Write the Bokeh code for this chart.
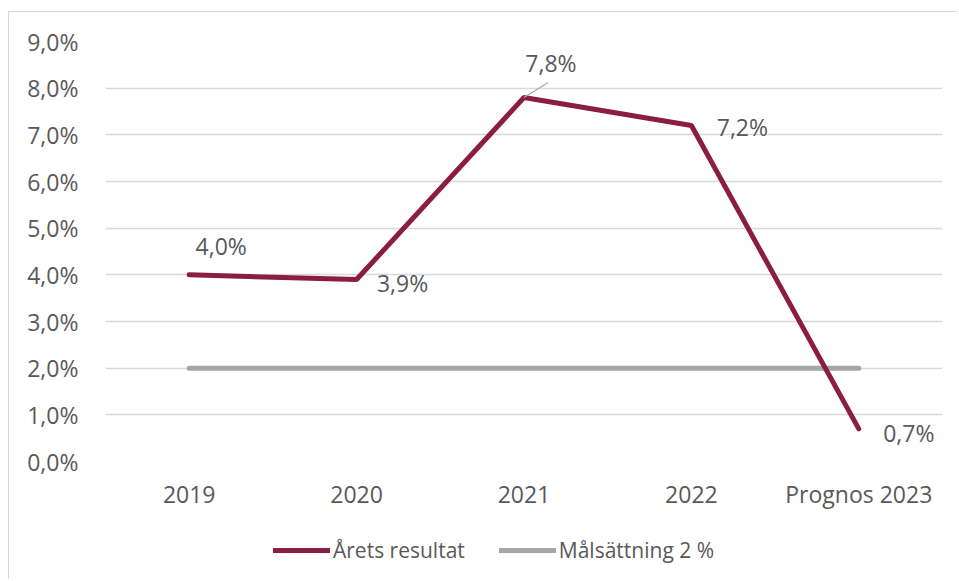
from bokeh.plotting import figure
from bokeh.layouts import column
from bokeh.models import (ColumnDataSource, Legend, LegendItem, CustomJSTickFormatter,
                          FixedTicker, Range1d, FactorRange)
from bokeh.transform import dodge
from bokeh.core.properties import value
from bokeh.embed import file_html
from bokeh.resources import INLINE

# ---- data ----
categories = ["2019", "2020", "2021", "2022", "Prognos 2023"]
arets_resultat = [4.0, 3.9, 7.8, 7.2, 0.7]
malsattning = [2.0, 2.0, 2.0, 2.0, 2.0]
y_ticks = [0, 1, 2, 3, 4, 5, 6, 7, 8, 9]
series_names = ["Årets resultat", "Målsättning 2 %"]

# ---- label placement (screen px, styling only) ----
label_dx = [32, 46, 27, 51, 50]
label_dy = [-29, 3, -35, 1, 4]

FONT = "Open Sans"
TXT = "#595959"
RED = "#8B1C42"
GREY = "#A6A6A6"
W = 948

p = figure(x_range=FactorRange(*categories, range_padding=0), y_range=Range1d(0, 9),
           width=W, height=509, output_backend="svg", toolbar_location=None,
           min_border_left=96, min_border_right=15, min_border_top=29, min_border_bottom=60)
p.outline_line_color = None
p.background_fill_color = "white"

p.xgrid.grid_line_color = None
p.ygrid.grid_line_color = "#d9d9d9"
p.ygrid.grid_line_width = 1.5
p.yaxis.ticker = FixedTicker(ticks=y_ticks)
p.yaxis.formatter = CustomJSTickFormatter(code="return tick.toFixed(1).replace('.', ',') + '%';")

for ax in (p.xaxis[0], p.yaxis[0]):
    ax.axis_line_color = None
    ax.major_tick_line_color = None
    ax.minor_tick_line_color = None
    ax.major_tick_out = 0
    ax.major_tick_in = 0
    ax.major_label_text_color = TXT
    ax.major_label_text_font = FONT
    ax.major_label_text_font_size = "23px"
p.yaxis.major_label_standoff = 27
p.xaxis.major_label_standoff = 16

src = ColumnDataSource(dict(
    x=categories, res=arets_resultat, mal=malsattning,
    lab=[f"{v:.1f}".replace(".", ",") + "%" for v in arets_resultat],
    dx=label_dx, dy=label_dy))

p.line("x", "mal", source=src, line_color=GREY, line_width=5, line_cap="round")
p.line("x", "res", source=src, line_color=RED, line_width=5, line_cap="round")

# leader line for the 2021 label
i = categories.index("2021")
lead = ColumnDataSource(dict(x=[categories[i]], y0=[arets_resultat[i]], y1=[arets_resultat[i] + 0.32]))
p.segment(x0="x", y0="y0", x1=dodge("x", 0.144, range=p.x_range), y1="y1", source=lead,
          line_color=GREY, line_width=1.2)

p.text(x="x", y="res", text="lab", x_offset="dx", y_offset="dy", source=src,
       text_align="center", text_baseline="middle", text_font=value(FONT),
       text_font_size="23px", text_color=TXT)

# ---- legend strip (same series, drawn outside its visible y-range; only the legend shows) ----
lf = figure(width=W, height=58, output_backend="svg", toolbar_location=None,
            x_range=p.x_range, y_range=Range1d(-100, -99),
            x_axis_type=None, y_axis_type=None, min_border=0)
lf.outline_line_color = None
lr_res = lf.line("x", "res", source=src, line_color=RED, line_width=5, line_cap="round")
lr_mal = lf.line("x", "mal", source=src, line_color=GREY, line_width=5, line_cap="round")
legend = Legend(items=[LegendItem(label=series_names[0], renderers=[lr_res]),
                       LegendItem(label=series_names[1], renderers=[lr_mal])],
                orientation="horizontal", location=(168, 15),
                label_text_font=FONT, label_text_font_size="21px", label_text_color=TXT,
                glyph_width=57, glyph_height=20, spacing=34, label_standoff=3,
                border_line_color=None, background_fill_alpha=0, padding=0, margin=0)
lf.add_layout(legend, "center")

layout = column(p, lf, spacing=0,
                styles={"margin": "11px 0 0 8px",
                        "border-left": "1px solid #d9d9d9",
                        "border-top": "1px solid #d9d9d9"})

open("out.html", "w").write(file_html(layout, INLINE))
